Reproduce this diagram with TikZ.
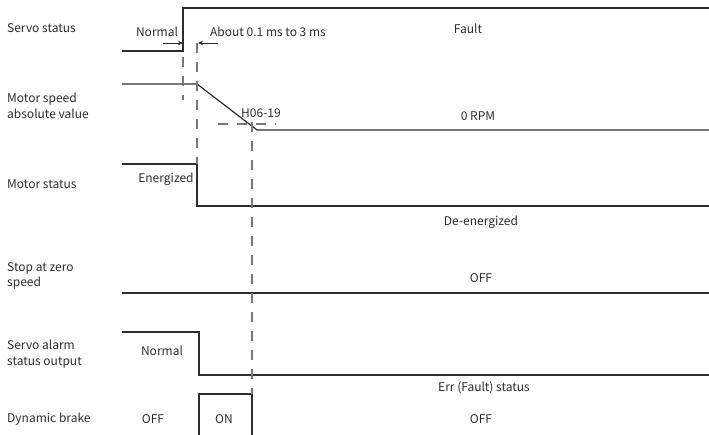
\documentclass[tikz,border=0pt]{standalone}
\usepackage{fontspec}
\setmainfont{Noto Sans CJK SC}
\usepackage{xcolor}
\definecolor{sigDark}{RGB}{45,45,45}
\definecolor{sigGuide}{RGB}{120,120,120}
\usepackage{tikz}
\usetikzlibrary{arrows.meta,positioning,calc}

\begin{document}
\begin{tikzpicture}[
    x=1pt, y=-1pt,
    sigLine/.style={
        line width=1.2pt, draw=sigDark
    },
    guideLine/.style={
        line width=1.2pt, draw=sigGuide, dash pattern=on 10pt off 9pt
    },
    rowLabel/.style={
        anchor=west, font=\fontsize{12}{15.5}\selectfont, text=sigDark,
        align=left, inner sep=0pt
    },
    stateLabel/.style={
        font=\fontsize{12}{15.5}\selectfont, text=sigDark, inner sep=0pt
    },
    timeArrow/.style={
        -{Stealth[length=5pt, width=4.5pt]}, line width=0.9pt, draw=sigDark
    }
]
    \useasboundingbox (0,0) rectangle (709,435);

    % Row labels
    \node[rowLabel] (lblServo) at (7,28) {Servo status};
    \node[rowLabel] (lblSpeed) at (7,106) {Motor speed\\absolute value};
    \node[rowLabel] (lblMotor) at (7,184) {Motor status};
    \node[rowLabel] (lblStop) at (7,276) {Stop at zero\\speed};
    \node[rowLabel] (lblAlarm) at (7,354) {Servo alarm\\status output};
    \node[rowLabel] (lblBrake) at (7,419) {Dynamic brake};

    % Signal waveforms
    \draw[sigLine] (122,51) -- (183,51) -- (183,8) -- (709,8);
    \draw[sigLine] (122,84) -- (197,84) -- (257,130) -- (709,130);
    \draw[sigLine] (122,164) -- (197,164) -- (197,206) -- (709,206);
    \draw[sigLine] (122,293) -- (709,293);
    \draw[sigLine] (122,332) -- (199,332) -- (199,375) -- (709,375);
    \draw[sigLine] (199,435) -- (199,394) -- (252,394) -- (252,435);

    % Guide lines
    \draw[guideLine] (183,57) -- (183,100);
    \draw[guideLine] (197,43) -- (197,164);
    \draw[guideLine] (218,124) -- (276,124);
    \draw[guideLine] (252,122) -- (252,394);

    % Delay marks
    \coordinate (faultEdge) at (183,43);
    \coordinate (faultTail) at (163,43);
    \coordinate (offEdge) at (198,43);
    \coordinate (offTail) at (218,43);
    \draw[timeArrow] (faultTail) -- (faultEdge);
    \draw[timeArrow] (offTail) -- (offEdge);

    % State labels
    \node[stateLabel] (servoNormal) at (157,32) {Normal};
    \node[stateLabel] (delayText) at (268,32) {About 0.1 ms to 3 ms};
    \node[stateLabel] (servoFault) at (468,29) {Fault};
    \node[stateLabel] (decelParam) at (261,113) {H06-19};
    \node[stateLabel] (zeroRpm) at (478,116) {0 RPM};
    \node[stateLabel] (motorOn) at (166,179) {Energized};
    \node[stateLabel] (motorOff) at (481,222) {De-energized};
    \node[stateLabel] (stopOff) at (481,278) {OFF};
    \node[stateLabel] (alarmNormal) at (162,351) {Normal};
    \node[stateLabel] (alarmErr) at (484,388) {Err (Fault) status};
    \node[stateLabel] (brakeOffA) at (153,419) {OFF};
    \node[stateLabel] (brakeOn) at (224,419) {ON};
    \node[stateLabel] (brakeOffB) at (481,419) {OFF};

\end{tikzpicture}
\end{document}
